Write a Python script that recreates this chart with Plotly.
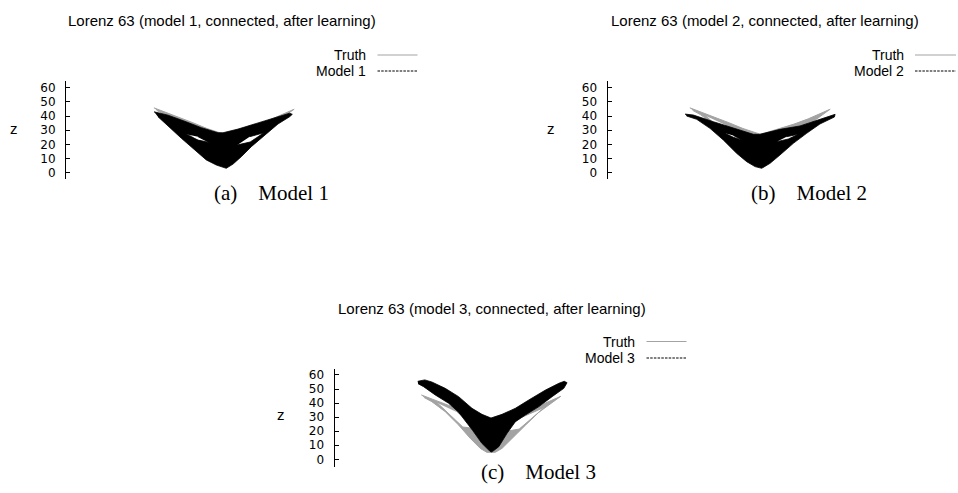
import plotly.graph_objects as go

W, H = 958, 493

# Lorenz 63 trajectories seen edge-on: horizontal projection h, height z.
# Each outline is an outer boundary followed (after None) by the wing "eyes",
# traced in the opposite direction so they are left empty.
truth_h = [-49.5, -42, -32, -22, -12, -4, 0, 5, 14, 24, 34, 43, 49.5,
           47, 43.4, 34, 24.4, 15, 7.8, 3, 0, -3, -7.6, -14.7, -23, -32.5, -42, -47.5,
           None, -38, -20, -8, -24,
           None, 8, 20, 38, 22]
truth_z = [45.8, 43.0, 39.3, 35.3, 31.2, 28.2, 27.2, 28.5, 31.0, 34.3, 38.0, 41.8, 44.8,
           43.0, 40.5, 33.5, 24.2, 14.8, 7.8, 5.0, 5.0, 5.0, 7.8, 14.9, 24.4, 33.9, 41.0, 44.0,
           None, 40.0, 23.0, 21.5, 33.5,
           None, 19.5, 21.5, 37.0, 30.0]

model1_h = [-49.4, -39.5, -27.7, -16, -4.2, -0.7, 9.9, 24, 38.1, 46.3, 48.2,
            46.3, 38.1, 28.7, 19.3, 12.2, 6.4, 1.6, -1.5, -5.4, -12.5, -20.7, -30.1, -39.5, -46.6,
            None, -26.6, -18.3, -10.1, -18.3,
            None, 9.4, 18.5, 28.2, 18.1]
model1_z = [43.0, 40.6, 36.3, 31.8, 28.2, 28.2, 30.8, 35.0, 39.3, 42.0, 41.2,
            39.5, 34.4, 26.6, 18.4, 11.3, 6.1, 3.1, 4.0, 5.4, 9.0, 16.0, 24.3, 33.0, 39.5,
            None, 27.1, 23.0, 21.2, 25.4,
            None, 19.5, 21.7, 28.2, 25.4]

model2_h = [-52.9, -47, -32.9, -18.8, -4.7, 0, 14.1, 28.2, 42.3, 50.5, 53, 52.5,
            50.6, 42.3, 32.9, 23.5, 14.1, 7.1, 1.2, -3.5, -9.4, -16.5, -25.9, -35.3, -44.7, -51.8,
            None, -24.7, -18.8, -12.9, -18.8,
            None, 11.8, 20, 27, 18.8]
model2_z = [41.4, 40.7, 36.0, 31.5, 27.1, 27.1, 30.6, 33.0, 37.7, 40.3, 41.2, 39.3,
            38.3, 34.4, 27.8, 20.7, 12.5, 6.6, 3.1, 4.3, 7.8, 13.7, 23.1, 31.3, 37.7, 40.0,
            None, 27.8, 25.0, 23.1, 26.3,
            None, 21.9, 23.8, 27.1, 25.4]

model3_h = [-52, -47, -42, -32.5, -23, -13.5, -6.4, 0, 7.8, 17.3, 26.8, 38.7, 48.2, 52, 54,
            51.7, 43.4, 34, 24.4, 17.3, 11.4, 5.5, 1, 0, -1.5, -6.5, -13, -18.5, -23,
            -30.1, -39.6, -47.9, -51.8]
model3_z = [55.5, 56.5, 55.0, 50.5, 44.6, 36.3, 32.0, 29.4, 32.0, 36.3, 42.2, 49.3, 54.1, 55.5, 54.5,
            50.5, 44.6, 37.5, 31.5, 26.8, 18.5, 9.0, 5.5, 5.2, 6.5, 11.4, 20.5, 28.0, 33.5,
            39.9, 45.8, 51.7, 53.8]

z_ticks = [0, 10, 20, 30, 40, 50, 60]
model_names = ["Model 1", "Model 2", "Model 3"]
titles = ["Lorenz 63 (model 1, connected, after learning)",
          "Lorenz 63 (model 2, connected, after learning)",
          "Lorenz 63 (model 3, connected, after learning)"]
captions = ["(a)\u2003Model 1", "(b)\u2003Model 2", "(c)\u2003Model 3"]

models = [(model1_h, model1_z), (model2_h, model2_z), (model3_h, model3_z)]

TRUTH_GREY = "#a3a3a3"
SANS = "Liberation Sans, Arial, sans-serif"
TICK_SANS = "DejaVu Sans, sans-serif"
SERIF = "Liberation Serif, Times New Roman, serif"

# Panel placement in pixels
panels = [
    dict(left=66, right=382, top=81, bottom=179.3, hr=111.5, zr=[-4.66, 64.73],
         title=(222, 20.5), leg_x=368, leg_line=(377.5, 417.5), leg_y=(55, 71),
         zlab=(13.5, 128), caption=(271, 193)),
    dict(left=607.5, right=912.5, top=81, bottom=179.3, hr=107.6, zr=[-4.66, 64.73],
         title=(765, 20.5), leg_x=906, leg_line=(915, 956), leg_y=(55, 71),
         zlab=(551, 128), caption=(809, 193)),
    dict(left=334.5, right=647.5, top=368.5, bottom=466.8, hr=111.1, zr=[-5.3, 64.6],
         title=(491.5, 308.5), leg_x=637, leg_line=(646.5, 686.5), leg_y=(341.5, 358),
         zlab=(281, 414), caption=(538, 472)),
]


def fx(p):
    return p / W


def fy(p):
    return 1 - p / H


fig = go.Figure()
annotations = []
shapes = []

for i, (p, (mh, mz)) in enumerate(zip(panels, models)):
    suffix = "" if i == 0 else str(i + 1)
    xa, ya = "x" + suffix, "y" + suffix

    fig.add_trace(go.Scatter(x=truth_h, y=truth_z, xaxis=xa, yaxis=ya, mode="lines",
                             fill="toself", fillcolor=TRUTH_GREY,
                             line=dict(color=TRUTH_GREY, width=1),
                             showlegend=False, hoverinfo="skip"))
    fig.add_trace(go.Scatter(x=mh, y=mz, xaxis=xa, yaxis=ya, mode="lines",
                             fill="toself", fillcolor="black",
                             line=dict(color="black", width=0.8),
                             showlegend=False, hoverinfo="skip"))

    fig.layout["xaxis" + suffix] = dict(domain=[fx(p["left"]), fx(p["right"])],
                                        range=[-p["hr"], p["hr"]], visible=False,
                                        anchor=ya, fixedrange=True)
    fig.layout["yaxis" + suffix] = dict(domain=[fy(p["bottom"]), fy(p["top"])],
                                        range=p["zr"], anchor=xa,
                                        tickvals=z_ticks, ticks="inside", ticklen=4,
                                        tickwidth=1, tickcolor="black",
                                        showline=True, linecolor="black", linewidth=1,
                                        showgrid=False, zeroline=False,
                                        ticklabelstandoff=7,
                                        tickfont=dict(family=TICK_SANS, size=12, color="black"),
                                        fixedrange=True)

    annotations.append(dict(text=titles[i], x=fx(p["title"][0]), y=fy(p["title"][1]),
                            xref="paper", yref="paper", xanchor="center", yanchor="middle",
                            showarrow=False, font=dict(family=SANS, size=15, color="black")))
    for label, yy in zip(["Truth", model_names[i]], p["leg_y"]):
        annotations.append(dict(text=label, x=fx(p["leg_x"]), y=fy(yy),
                                xref="paper", yref="paper", xanchor="right", yanchor="middle",
                                showarrow=False, font=dict(family=SANS, size=14, color="black")))
    shapes.append(dict(type="line", xref="paper", yref="paper",
                       x0=fx(p["leg_line"][0]), x1=fx(p["leg_line"][1]),
                       y0=fy(p["leg_y"][0]), y1=fy(p["leg_y"][0]),
                       line=dict(color=TRUTH_GREY, width=1)))
    shapes.append(dict(type="line", xref="paper", yref="paper",
                       x0=fx(p["leg_line"][0]), x1=fx(p["leg_line"][1]),
                       y0=fy(p["leg_y"][1]), y1=fy(p["leg_y"][1]),
                       line=dict(color="black", width=1, dash="2.5px,1.2px")))
    annotations.append(dict(text="z", x=fx(p["zlab"][0]), y=fy(p["zlab"][1]),
                            xref="paper", yref="paper", xanchor="center", yanchor="middle",
                            showarrow=False, font=dict(family=SANS, size=15, color="black")))
    annotations.append(dict(text=captions[i], x=fx(p["caption"][0]), y=fy(p["caption"][1]),
                            xref="paper", yref="paper", xanchor="center", yanchor="middle",
                            showarrow=False, font=dict(family=SERIF, size=21, color="black")))

fig.update_layout(width=W, height=H, margin=dict(l=0, r=0, t=0, b=0),
                  paper_bgcolor="white", plot_bgcolor="white",
                  annotations=annotations, shapes=shapes, showlegend=False)

fig.write_html("out.html", config={"displayModeBar": False})
